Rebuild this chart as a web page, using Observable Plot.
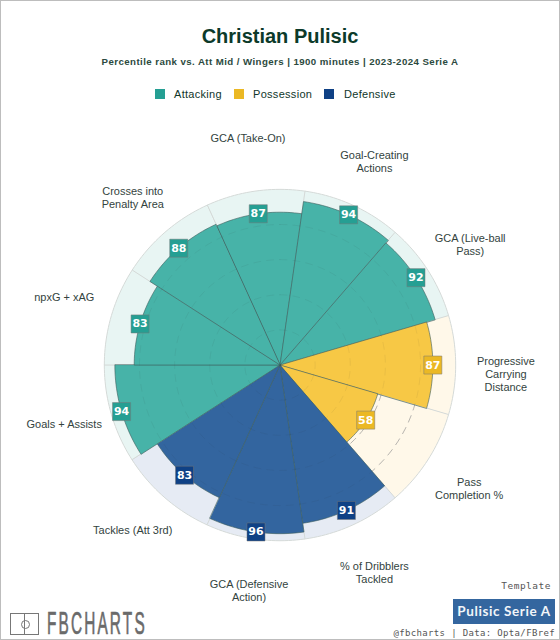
<!DOCTYPE html>
<html>
<head>
<meta charset="utf-8">
<script src="https://cdn.jsdelivr.net/npm/d3@7"></script>
<script src="https://cdn.jsdelivr.net/npm/@observablehq/plot@0.6"></script>
<style>
  html, body { margin: 0; padding: 0; background: #fff; }
  #page { position: relative; width: 560px; height: 640px; box-sizing: border-box; border: 1px solid #bdbdbd; overflow: hidden; font-family: "Liberation Sans", Arial, sans-serif; color: #10362a; }
  #page > * { position: absolute; }
  h1 { margin: 0; left: 0; width: 558px; top: 22px; text-align: center; font-size: 20px; line-height: 26px; font-weight: 700; color: #0c3a2a; }
  #sub { left: 0; width: 558px; top: 54px; text-align: center; font-size: 9.7px; line-height: 14px; font-weight: 700; letter-spacing: .42px; color: #2c4a40; }
  #legend { top: 85px; left: 0; height: 16px; width: 558px; font-size: 11px; line-height: 16px; letter-spacing: .3px; color: #10362a; }
  #legend i { position: absolute; top: 3px; width: 9.5px; height: 9.5px; }
  #legend span { position: absolute; top: 0; }
  #chart { left: -1px; top: 109px; }
  #template { right: 8px; top: 579px; font: 9.5px "DejaVu Sans Mono", monospace; letter-spacing: .5px; color: #555; }
  #badge { left: 452px; top: 598px; width: 102px; height: 25px; background: #34669f; color: #f2f5f9; font: 700 13.5px/25px "Lato", sans-serif; letter-spacing: .6px; text-align: center; }
  #credit { right: 4px; top: 627px; font: 9px "DejaVu Sans Mono", monospace; letter-spacing: .35px; color: #555; white-space: nowrap; }
  #pitch { left: 9px; top: 612px; width: 29px; height: 22px; border: 1px solid #777; box-sizing: border-box; }
  #pitch::before { content: ""; position: absolute; left: 13px; top: 0; bottom: 0; border-left: 1px solid #777; }
  #pitch::after { content: ""; position: absolute; left: 9.5px; top: 6px; width: 7px; height: 7px; border: 1px solid #777; border-radius: 50%; }
  #brand { left: 46px; top: 607px; font: 400 32px/30px "Liberation Sans", sans-serif; color: #6a6a6a; -webkit-text-stroke: .7px #6a6a6a; letter-spacing: 4.5px; transform-origin: left center; transform: scaleX(.48); white-space: nowrap; }
</style>
</head>
<body>
<div id="page">
  <h1>Christian Pulisic</h1>
  <div id="sub">Percentile rank vs. Att Mid / Wingers | 1900 minutes | 2023-2024 Serie A</div>
  <div id="legend"></div>
  <div id="chart"></div>
  <div id="template">Template</div>
  <div id="badge">Pulisic Serie A</div>
  <div id="credit">@fbcharts | Data: Opta/FBref</div>
  <div id="pitch"></div>
  <div id="brand">FBCHARTS</div>
</div>
<script>
// Data, clockwise from the slice just left of the top
const metrics = ["GCA (Take-On)", "Goal-Creating\nActions", "GCA (Live-ball\nPass)", "Progressive\nCarrying\nDistance", "Pass\nCompletion %", "% of Dribblers\nTackled", "GCA (Defensive\nAction)", "Tackles (Att 3rd)", "Goals + Assists", "npxG + xAG", "Crosses into\nPenalty Area"];
const values = [87, 94, 92, 87, 58, 91, 96, 83, 94, 83, 88];
const metricGroups = ["Attacking", "Attacking", "Attacking", "Possession", "Possession", "Defensive", "Defensive", "Defensive", "Attacking", "Attacking", "Attacking"];
const groups = ["Attacking", "Possession", "Defensive"];
const ringLevels = [20, 40, 60, 80];

// Styling
const fillColors = ["#47b3a8", "#f7c845", "#33659f"];
const backColors = ["#e8f5f3", "#fff8e9", "#e6ebf4"];
const badgeColors = ["#259f93", "#ebb824", "#0f4185"];
const legendX = [[155, 174], [234, 253], [324, 344]];

// Layout: pixels per percentile unit, chart centre in the SVG, label nudges in px
const unit = 1.76, W = 560, H = 531, cx = 280, cy = 255;
const step = 360 / metrics.length, firstCentre = 90 - 3 * step;
const labelRadius = 128;
const labelNudgeX = [0, 1, 1, 1, 0, 1, 1, 0, 0, 0, 0];
const labelNudgeY = [-5, 1, 1, 9, 2, 3, 3, -5, -5, -5, 2];
const rad = a => a * Math.PI / 180;
const polar = (r, a) => ({x: r * Math.sin(rad(a)), y: r * Math.cos(rad(a))});
const centre = i => firstCentre + i * step;

function sector(i, r) {
  const pts = [{x: 0, y: 0}];
  for (let k = 0; k <= 24; ++k) pts.push(polar(r, centre(i) - step / 2 + step * k / 24));
  return pts.map(p => ({...p, metric: metrics[i], group: metricGroups[i]}));
}
const backs = metrics.flatMap((m, i) => sector(i, 100));
const fronts = metrics.flatMap((m, i) => sector(i, values[i]));
const rings = ringLevels.flatMap(level => d3.range(0, 361, 3).map(a => ({...polar(level, a), level})));
const badges = metrics.map((m, i) => ({...polar(values[i], centre(i)), value: values[i], group: metricGroups[i]}));
const labels = metrics.map((m, i) => {
  const p = polar(labelRadius, centre(i));
  return {x: p.x + labelNudgeX[i] / unit, y: p.y - labelNudgeY[i] / unit, metric: m};
});

const color = {domain: groups, range: fillColors};
const plot = Plot.plot({
  width: W, height: H, margin: 0, style: {background: "transparent", overflow: "visible"},
  x: {domain: [-cx / unit, (W - cx) / unit], range: [0, W], axis: null},
  y: {domain: [cy / unit, (cy - H) / unit], range: [0, H], axis: null},
  color,
  marks: [
    ...groups.map((g, gi) => Plot.line(backs.filter(d => d.group === g), {x: "x", y: "y", z: "metric", curve: "linear-closed", fill: backColors[gi], stroke: "#d5dad8", strokeWidth: 1})),
    Plot.line(rings.filter(d => d.level >= 60), {x: "x", y: "y", z: "level", stroke: "#999", strokeOpacity: 0.6, strokeWidth: 1, strokeDasharray: "7 6"}),
    Plot.line(fronts, {x: "x", y: "y", z: "metric", curve: "linear-closed", fill: "group", stroke: "#3d5c5a", strokeOpacity: 0.6, strokeWidth: 1}),
    Plot.line(rings, {x: "x", y: "y", z: "level", stroke: "#333", strokeOpacity: 0.07, strokeWidth: 1, strokeDasharray: "7 6"}),
    Plot.dot(badges, {x: "x", y: "y", symbol: "square", r: 10.2, fill: d => badgeColors[groups.indexOf(d.group)], stroke: "#777", strokeOpacity: 0.5, strokeWidth: 1}),
    Plot.text(badges, {x: "x", y: "y", text: d => String(d.value), fill: "#fff", fontWeight: 700, fontSize: 11, fontFamily: "DejaVu Sans, sans-serif"}),
    Plot.text(labels, {x: "x", y: "y", text: "metric", fill: "#33433e", fontSize: 11, lineHeight: 1.2, textAnchor: "middle", lineAnchor: "middle", fontFamily: "Liberation Sans, Arial, sans-serif"})
  ]
});
document.getElementById("chart").appendChild(plot);

// Legend
const legend = document.getElementById("legend");
groups.forEach((g, i) => {
  const sw = document.createElement("i");
  sw.style.left = legendX[i][0] - 1 + "px";
  sw.style.background = badgeColors[i];
  const tx = document.createElement("span");
  tx.style.left = legendX[i][1] - 1 + "px";
  tx.textContent = g;
  legend.append(sw, tx);
});
</script>
</body>
</html>
